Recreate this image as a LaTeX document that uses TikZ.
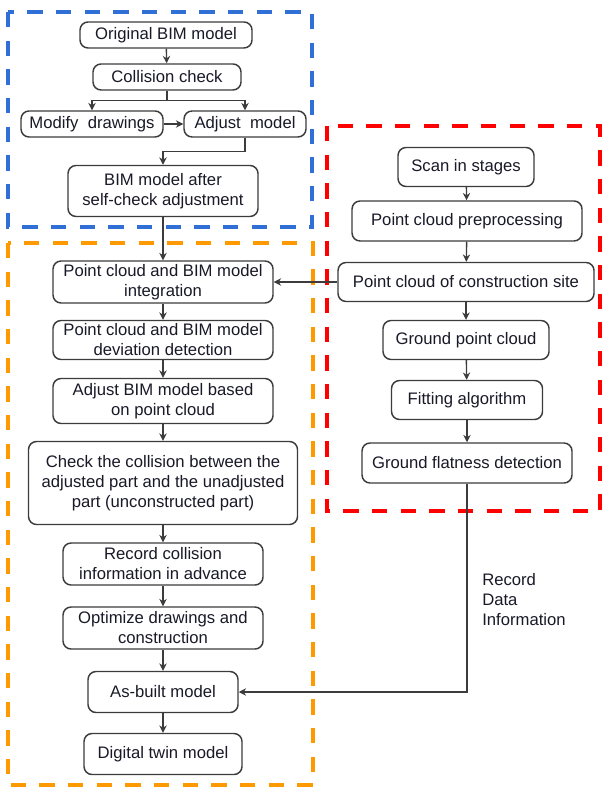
\documentclass[tikz,border=0pt]{standalone}
\usepackage{fontspec}
\setmainfont{Liberation Sans}
\usetikzlibrary{arrows.meta}
\definecolor{bblue}{RGB}{47,111,214}
\definecolor{borange}{RGB}{255,153,0}
\definecolor{bred}{RGB}{255,0,0}
\definecolor{edge}{RGB}{60,60,60}
\definecolor{txt}{RGB}{25,25,40}
\tikzset{
  bx/.style 2 args={draw=edge, line width=1.1pt, rounded corners=6pt, fill=white,
    minimum width=#1*0.75pt, minimum height=#2*0.75pt, inner sep=0pt,
    align=center, text=txt, font=\fontsize{12.5}{15}\selectfont},
  arr/.style={draw=edge, line width=1pt, -{Stealth[length=5.5pt,width=5.5pt]}},
  frame/.style={line width=2.6pt, dash pattern=on 11.5pt off 10pt},
}
\begin{document}
\begin{tikzpicture}[x=0.75pt,y=-0.75pt]
\useasboundingbox (0,0) rectangle (603,787);
% frames
\draw[frame, bblue] (8,12) rectangle (312,227);
\draw[frame, borange] (8,243) rectangle (313,785);
\draw[frame, bred] (327,126) rectangle (600,511);
% blue region
\node[bx={172}{26}] (orig) at (166,35) {Original BIM model};
\node[bx={148}{26}] (coll) at (167,77) {Collision check};
\node[bx={142}{26}] (mod) at (92,124) {Modify\ \ drawings};
\node[bx={122}{26}] (adj) at (245,124) {Adjust\ \ model};
\node[bx={190}{51}] (bim) at (163,191) {BIM model after\\self-check adjustment};
% orange region
\node[bx={220}{42}] (integ) at (163,282) {Point cloud and BIM model\\integration};
\node[bx={220}{39}] (dev) at (163,340) {Point cloud and BIM model\\deviation detection};
\node[bx={220}{45}] (adjbim) at (163,401) {Adjust BIM model based\\on point cloud};
\node[bx={269}{83}] (check) at (163,483) {Check the collision between the\\adjusted part and the unadjusted\\part (unconstructed part)};
\node[bx={200}{42}] (rec) at (163,564) {Record collision\\information in advance};
\node[bx={200}{42}] (opt) at (163,628) {Optimize drawings and\\construction};
\node[bx={150}{41}] (asb) at (163,692) {As-built model};
\node[bx={158}{41}] (twin) at (163,754) {Digital twin model};
% red region
\node[bx={136}{39}] (scan) at (466,167) {Scan in stages};
\node[bx={230}{40}] (pre) at (467,221) {Point cloud preprocessing};
\node[bx={256}{39}] (site) at (466,282) {Point cloud of construction site};
\node[bx={166}{39}] (gpc) at (466,340) {Ground point cloud};
\node[bx={151}{39}] (fit) at (467,400) {Fitting algorithm};
\node[bx={210}{40}] (flat) at (467,463) {Ground flatness detection};
% connectors
\draw[arr] (orig) -- (coll);
\draw[arr] (coll.south) -- ++(0,10) -| (mod.north);
\draw[arr] (coll.south) -- ++(0,10) -| (adj.north);
\draw[arr] (mod) -- (adj);
\draw[arr] (adj.south) -- ++(0,14) -| (bim.north);
\draw[arr] (bim) -- (integ);
\draw[arr] (integ) -- (dev);
\draw[arr] (dev) -- (adjbim);
\draw[arr] (adjbim) -- (check);
\draw[arr] (check) -- (rec);
\draw[arr] (rec) -- (opt);
\draw[arr] (opt) -- (asb);
\draw[arr] (asb) -- (twin);
\draw[arr] (scan) -- (pre);
\draw[arr] (pre) -- (site);
\draw[arr] (site) -- (gpc);
\draw[arr] (gpc) -- (fit);
\draw[arr] (fit) -- (flat);
\draw[arr] (site.west) -- (integ.east);
\draw[arr] (flat.south) |- (asb.east);
\node[anchor=west, align=left, text=txt, inner sep=0pt, font=\fontsize{12.5}{15}\selectfont] (lbl) at (482,600) {Record\\Data\\Information};
\end{tikzpicture}
\end{document}
